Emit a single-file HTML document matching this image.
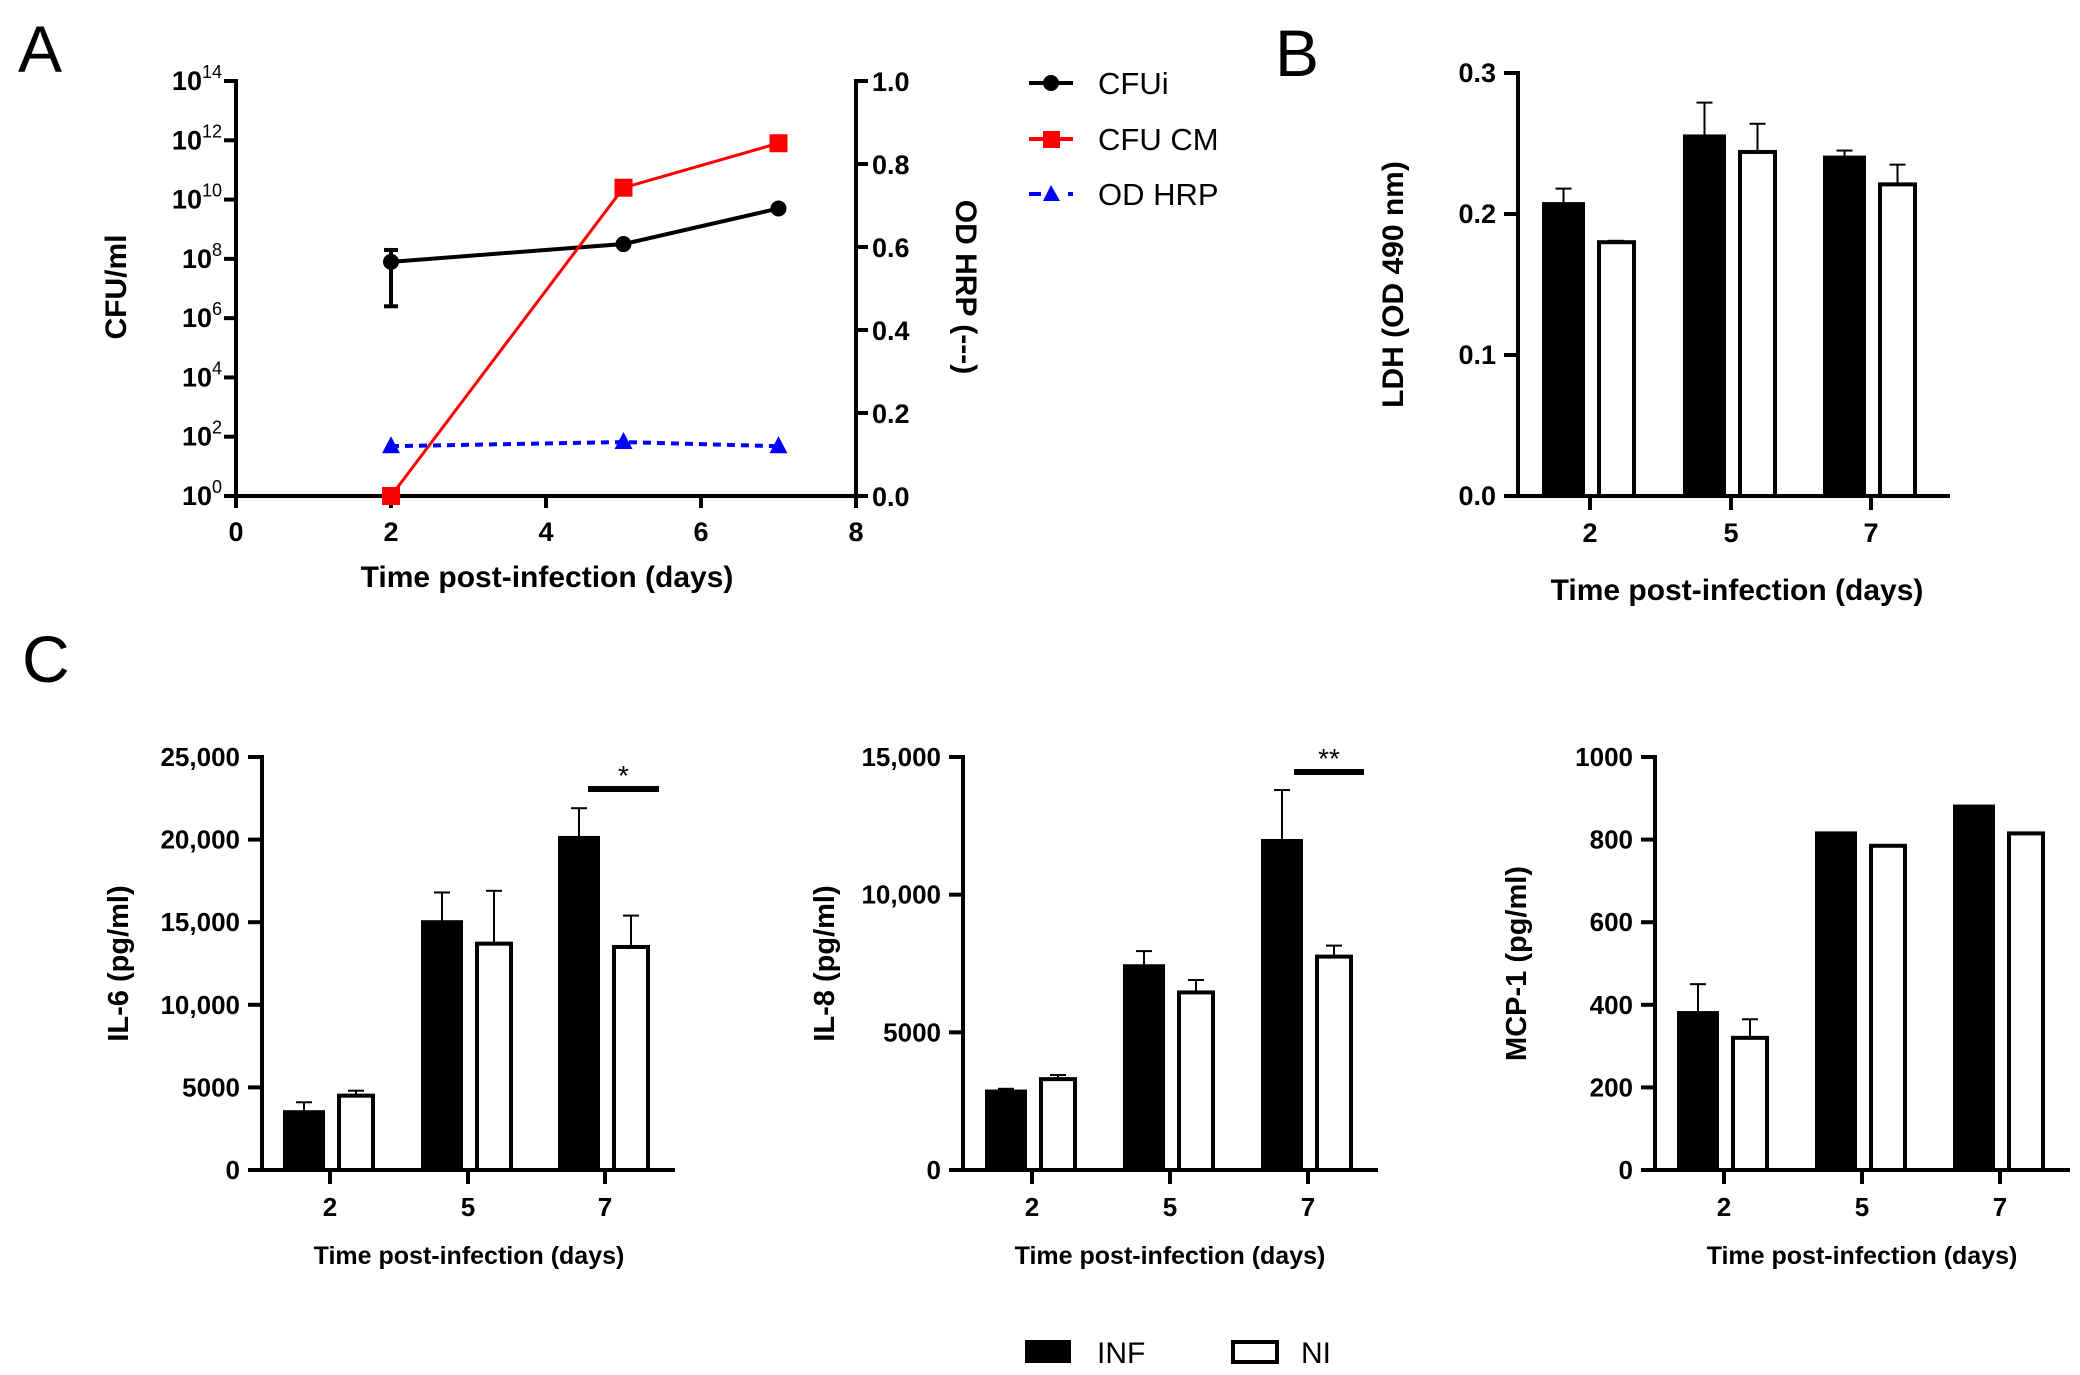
<!DOCTYPE html>
<html><head><meta charset="utf-8"><style>
html,body{margin:0;padding:0;background:#fff;}
svg{display:block;font-family:"Liberation Sans",Arial,sans-serif;}
.b{font-weight:bold;}
</style></head><body>
<svg id="fig" width="2080" height="1375" viewBox="0 0 2080 1375" xmlns="http://www.w3.org/2000/svg">
<text x="18" y="72" font-size="66">A</text>
<text x="1275" y="76" font-size="66">B</text>
<text x="22" y="682" font-size="66">C</text>
</svg>
<script>
const NS="http://www.w3.org/2000/svg";
const svg=document.getElementById('fig');
function mk(tag,attrs,parent,text){const e=document.createElementNS(NS,tag);for(const k in attrs)e.setAttribute(k,attrs[k]);if(text!==undefined)e.textContent=text;(parent||svg).appendChild(e);return e;}

// ===== Panel A data =====
const aDays=[2,5,7];
const cfuiLog=[7.9,8.5,9.7];
const cfuiErrLo=[6.4,8.5,9.7];
const cfuiErrHi=[8.3,8.5,9.7];
const cfucmLog=[0,10.4,11.9];
const odHrp=[0.12,0.13,0.12];
const aXTicks=[0,2,4,6,8];
const aYExp=[0,2,4,6,8,10,12,14];
const aY2Ticks=[0.0,0.2,0.4,0.6,0.8,1.0];

// ===== Panel B data =====
const bCats=['2','5','7'];
const ldhInf=[0.207,0.255,0.240];
const ldhInfErr=[0.218,0.279,0.245];
const ldhNi=[0.180,0.244,0.221];
const ldhNiErr=[0.181,0.264,0.235];
const bTicks=[0.0,0.1,0.2,0.3];

// ===== Panel C data =====
const cCats=['2','5','7'];
const il6Inf=[3500,15000,20100];
const il6InfErr=[4100,16800,21900];
const il6Ni=[4500,13700,13500];
const il6NiErr=[4800,16900,15400];
const il6Ticks=[0,5000,10000,15000,20000,25000];
const il6Labels=['0','5000','10,000','15,000','20,000','25,000'];
const il8Inf=[2850,7400,11950];
const il8InfErr=[2950,7950,13800];
const il8Ni=[3300,6450,7750];
const il8NiErr=[3450,6900,8150];
const il8Ticks=[0,5000,10000,15000];
const il8Labels=['0','5000','10,000','15,000'];
const mcpInf=[380,815,880];
const mcpInfErr=[450,815,880];
const mcpNi=[320,785,815];
const mcpNiErr=[365,785,815];
const mcpTicks=[0,200,400,600,800,1000];
const mcpLabels=['0','200','400','600','800','1000'];

// ----- Panel A -----
(function(){
  const g=mk('g',{});
  
  
  const X0=236,X1=856,YT=81,YB=496;
  const sx=d=>X0+(d-0)/8*(X1-X0);
  const sy=l=>YB-(l/14)*(YB-YT);
  const sy2=v=>YB-v*(YB-YT);
  mk('line',{x1:X0,y1:YT-2,x2:X0,y2:YB+2,stroke:'#000','stroke-width':4},g);
  mk('line',{x1:X1,y1:YT-2,x2:X1,y2:YB+2,stroke:'#000','stroke-width':4},g);
  mk('line',{x1:X0,y1:YB,x2:X1,y2:YB,stroke:'#000','stroke-width':4},g);
  aXTicks.forEach(t=>{const x=sx(t);mk('line',{x1:x,y1:YB,x2:x,y2:YB+12,stroke:'#000','stroke-width':4},g);
    const tx=mk('text',{x:x,y:YB+45,'font-size':27,'text-anchor':'middle',class:'b'},g,String(t));
    });
  aYExp.forEach(e=>{const y=sy(e);mk('line',{x1:X0-12,y1:y,x2:X0,y2:y,stroke:'#000','stroke-width':4},g);
    const t=mk('text',{x:X0-14,y:y+9,'font-size':27,'text-anchor':'end',class:'b'},g);
    
    mk('tspan',{},t,'10');mk('tspan',{dy:-12,'font-size':18,'font-weight':'normal'},t,String(e));});
  aY2Ticks.forEach(v=>{const y=sy2(v);mk('line',{x1:X1,y1:y,x2:X1+12,y2:y,stroke:'#000','stroke-width':4},g);
    const t=mk('text',{x:X1+16,y:y+10,'font-size':27,class:'b'},g,v.toFixed(1));
    });
  let t=mk('text',{x:547,y:587,'font-size':30,'text-anchor':'middle',class:'b'},g,'Time post-infection (days)');
  
  t=mk('text',{x:0,y:0,'font-size':30,'text-anchor':'middle',class:'b',transform:'translate(126,287) rotate(-90)'},g,'CFU/ml');
  
  t=mk('text',{x:0,y:0,'font-size':30,'text-anchor':'middle',class:'b',transform:'translate(956,287) rotate(90)'},g,'OD HRP (---)');
  
  const e0=mk('line',{x1:sx(aDays[0]),y1:sy(cfuiErrLo[0]),x2:sx(aDays[0]),y2:sy(cfuiErrHi[0]),stroke:'#000','stroke-width':4},g);
  
  [cfuiErrLo[0],cfuiErrHi[0]].forEach(v=>mk('line',{x1:sx(aDays[0])-7,y1:sy(v),x2:sx(aDays[0])+7,y2:sy(v),stroke:'#000','stroke-width':4},g));
  let p=mk('polyline',{points:aDays.map((d,i)=>sx(d)+','+sy(cfuiLog[i])).join(' '),fill:'none',stroke:'#000','stroke-width':4},g);
  
  aDays.forEach((d,i)=>{const c=mk('circle',{cx:sx(d),cy:sy(cfuiLog[i]),r:8,fill:'#000'},g);});
  p=mk('polyline',{points:aDays.map((d,i)=>sx(d)+','+sy(cfucmLog[i])).join(' '),fill:'none',stroke:'#f00','stroke-width':3},g);
  
  aDays.forEach((d,i)=>{const r=mk('rect',{x:sx(d)-9,y:sy(cfucmLog[i])-9,width:18,height:18,fill:'#f00'},g);});
  p=mk('polyline',{points:aDays.map((d,i)=>sx(d)+','+sy2(odHrp[i])).join(' '),fill:'none',stroke:'#00f','stroke-width':4,'stroke-dasharray':'8,6'},g);
  
  aDays.forEach((d,i)=>{const x=sx(d),y=sy2(odHrp[i]);const r=mk('polygon',{points:`${x},${y-10} ${x-9},${y+7} ${x+9},${y+7}`,fill:'#00f'},g);});
  const L=[['CFUi','#000','c',83],['CFU CM','#f00','s',139],['OD HRP','#00f','t',194]];
  L.forEach(l=>{const lg=mk('g',{},g);
    if(l[2]==='t'){mk('line',{x1:1029,y1:l[3],x2:1041,y2:l[3],stroke:l[1],'stroke-width':4},lg);mk('line',{x1:1068,y1:l[3],x2:1073,y2:l[3],stroke:l[1],'stroke-width':4},lg);
      mk('polygon',{points:`1051,${l[3]-9} 1043,${l[3]+7} 1060,${l[3]+7}`,fill:l[1]},lg);}
    else{mk('line',{x1:1029,y1:l[3],x2:1073,y2:l[3],stroke:l[1],'stroke-width':4},lg);
      if(l[2]==='c')mk('circle',{cx:1051,cy:l[3],r:8,fill:l[1]},lg);else mk('rect',{x:1043,y:l[3]-8,width:17,height:17,fill:l[1]},lg);}
    mk('text',{x:1098,y:l[3]+11,'font-size':31},lg,l[0]);});
})();

function barChart(name,o){
  const g=mk('g',{});
  
  
  const {X0,X1,YT,YB,max,cats,cx,inf,infErr,ni,niErr,ticks,labels,bw,tickFs}=o;
  const sy=v=>YB-v/max*(YB-YT);
  mk('line',{x1:X0,y1:YT-2,x2:X0,y2:YB+2,stroke:'#000','stroke-width':4},g);
  mk('line',{x1:X0-2,y1:YB,x2:X1,y2:YB,stroke:'#000','stroke-width':4},g);
  ticks.forEach((v,i)=>{const y=sy(v);mk('line',{x1:X0-14,y1:y,x2:X0,y2:y,stroke:'#000','stroke-width':4},g);
    const t=mk('text',{x:X0-22,y:y+9,'font-size':tickFs,'text-anchor':'end',class:'b'},g,labels[i]);
    });
  cats.forEach((c,i)=>{const x=cx[i];
    mk('line',{x1:x,y1:YB,x2:x,y2:YB+14,stroke:'#000','stroke-width':4},g);
    const t=mk('text',{x:x,y:YB+46,'font-size':tickFs,'text-anchor':'middle',class:'b'},g,c);
    
    const xi=x-bw-7, xn=x+7;
    [[xi,inf[i],infErr[i]],[xn,ni[i],niErr[i]]].forEach(a=>{if(a[2]>a[1]){mk('line',{x1:a[0]+bw/2,y1:sy(a[1]),x2:a[0]+bw/2,y2:sy(a[2]),stroke:'#000','stroke-width':2},g);
      mk('line',{x1:a[0]+bw/2-8,y1:sy(a[2]),x2:a[0]+bw/2+8,y2:sy(a[2]),stroke:'#000','stroke-width':2},g);}});
    const r1=mk('rect',{x:xi,y:sy(inf[i]),width:bw,height:YB-sy(inf[i]),fill:'#000',stroke:'#000','stroke-width':4},g);
    
    const r2=mk('rect',{x:xn+2,y:sy(ni[i]),width:bw-4,height:YB-sy(ni[i]),fill:'#fff',stroke:'#000','stroke-width':4},g);
    
  });
  let t=mk('text',{x:o.xtX,y:o.xtY,'font-size':o.xtFs,'text-anchor':'middle',class:'b'},g,'Time post-infection (days)');
  
  t=mk('text',{x:0,y:0,'font-size':o.ytFs,'text-anchor':'middle',class:'b',transform:`translate(${o.ytX},${(YT+YB)/2}) rotate(-90)`},g,o.ytitle);
  
  if(o.sig){const s=mk('line',{x1:o.sig[0],y1:o.sig[2],x2:o.sig[1],y2:o.sig[2],stroke:'#000','stroke-width':6},g);
    
    const st=mk('text',{x:(o.sig[0]+o.sig[1])/2,y:o.sig[2]-4,'font-size':28,'text-anchor':'middle'},g,o.sig[3]);
    }
}

barChart('panel-b-ldh-chart',{X0:1518,X1:1950,YT:73,YB:496,max:0.3,cats:bCats,cx:[1590,1731,1871],inf:ldhInf,infErr:ldhInfErr,ni:ldhNi,niErr:ldhNiErr,ticks:bTicks,labels:bTicks.map(v=>v.toFixed(1)),bw:39,tickFs:27,xtX:1737,xtY:600,xtFs:30,ytX:1403,ytFs:30,ytitle:'LDH (OD 490 nm)'});
barChart('panel-c-il6-chart',{X0:262,X1:675,YT:757,YB:1170,max:25000,cats:cCats,cx:[330,468,605],inf:il6Inf,infErr:il6InfErr,ni:il6Ni,niErr:il6NiErr,ticks:il6Ticks,labels:il6Labels,bw:38,tickFs:26,xtX:469,xtY:1264,xtFs:25,ytX:128,ytFs:29,ytitle:'IL-6 (pg/ml)',sig:[588,659,789,'*']});
barChart('panel-c-il8-chart',{X0:963,X1:1378,YT:757,YB:1170,max:15000,cats:cCats,cx:[1032,1170,1308],inf:il8Inf,infErr:il8InfErr,ni:il8Ni,niErr:il8NiErr,ticks:il8Ticks,labels:il8Labels,bw:38,tickFs:26,xtX:1170,xtY:1264,xtFs:25,ytX:834,ytFs:29,ytitle:'IL-8 (pg/ml)',sig:[1294,1364,772,'**']});
barChart('panel-c-mcp1-chart',{X0:1655,X1:2070,YT:757,YB:1170,max:1000,cats:cCats,cx:[1724,1862,2000],inf:mcpInf,infErr:mcpInfErr,ni:mcpNi,niErr:mcpNiErr,ticks:mcpTicks,labels:mcpLabels,bw:38,tickFs:26,xtX:1862,xtY:1264,xtFs:25,ytX:1526,ytFs:29,ytitle:'MCP-1 (pg/ml)'});

const lg1=mk('g',{});


mk('rect',{x:1025,y:1340,width:46,height:23,fill:'#000'},lg1);
mk('text',{x:1097,y:1363,'font-size':30},lg1,'INF');
const lg2=mk('g',{});


mk('rect',{x:1233,y:1342,width:44,height:20,fill:'#fff',stroke:'#000','stroke-width':4},lg2);
mk('text',{x:1301,y:1363,'font-size':30},lg2,'NI');
</script>
</body></html>
